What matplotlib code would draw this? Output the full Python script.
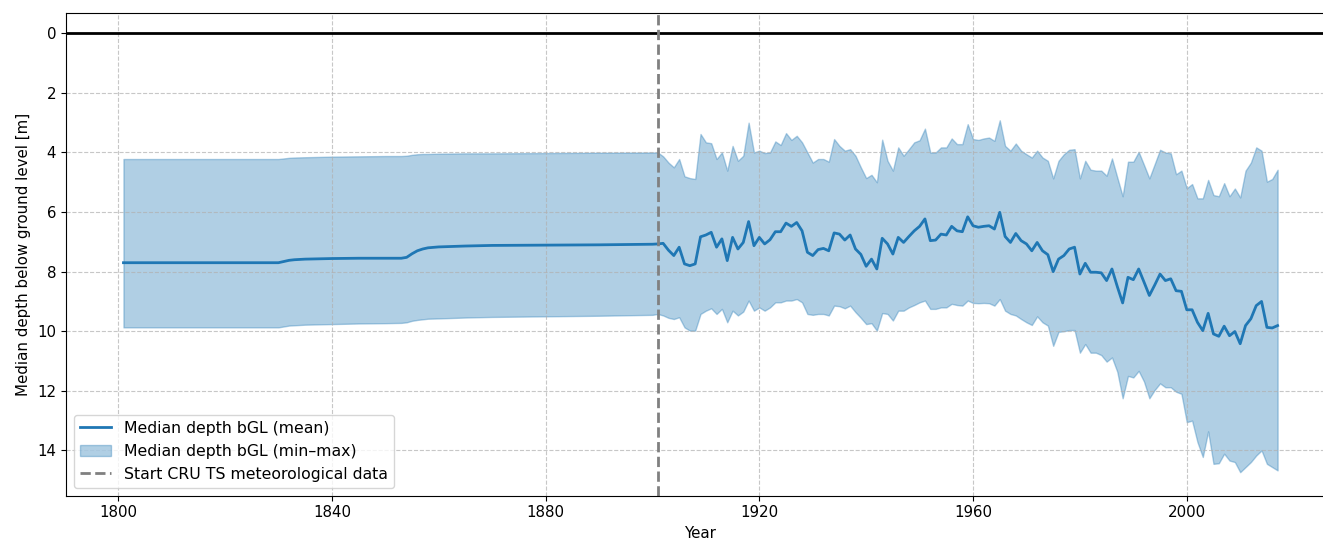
import numpy as np
import matplotlib.pyplot as plt

# Pre-1901 reconstruction (sparse yearly knots, smooth segments)
years_early = [1801, 1810, 1820, 1830, 1831, 1832, 1833, 1835, 1840, 1845, 1850, 1853,
               1854, 1855, 1856, 1857, 1858, 1860, 1865, 1870, 1880, 1890, 1900]
mean_early = [7.70, 7.70, 7.70, 7.70, 7.66, 7.62, 7.60, 7.58, 7.56, 7.55, 7.55, 7.55,
              7.52, 7.40, 7.30, 7.24, 7.20, 7.17, 7.14, 7.12, 7.11, 7.10, 7.08]
min_early = [4.22, 4.22, 4.22, 4.22, 4.20, 4.18, 4.17, 4.16, 4.14, 4.13, 4.12, 4.12,
             4.11, 4.08, 4.06, 4.05, 4.05, 4.04, 4.03, 4.03, 4.02, 4.01, 4.00]
max_early = [9.87, 9.87, 9.87, 9.87, 9.84, 9.81, 9.80, 9.78, 9.76, 9.74, 9.73, 9.72,
             9.70, 9.65, 9.62, 9.60, 9.58, 9.57, 9.54, 9.52, 9.50, 9.48, 9.45]

# CRU TS period, yearly values 1901-2017
years_cru = list(range(1901, 2018))
mean_cru = [
    7.07, 7.05, 7.28, 7.46, 7.18, 7.74, 7.80, 7.74, 6.83, 6.77,   # 1901-1910
    6.68, 7.18, 6.90, 7.63, 6.85, 7.24, 7.02, 6.32, 7.13, 6.85,   # 1911-1920
    7.07, 6.93, 6.66, 6.66, 6.37, 6.48, 6.35, 6.63, 7.35, 7.46,   # 1921-1930
    7.26, 7.22, 7.30, 6.70, 6.74, 6.94, 6.77, 7.24, 7.42, 7.82,   # 1931-1940
    7.58, 7.91, 6.88, 7.07, 7.41, 6.85, 7.02, 6.82, 6.63, 6.48,   # 1941-1950
    6.23, 6.96, 6.94, 6.74, 6.77, 6.48, 6.63, 6.66, 6.16, 6.46,   # 1951-1960
    6.51, 6.48, 6.46, 6.57, 6.01, 6.82, 7.02, 6.72, 6.96, 7.07,   # 1961-1970
    7.30, 7.02, 7.30, 7.43, 8.00, 7.58, 7.46, 7.24, 7.18, 8.08,   # 1971-1980
    7.72, 8.02, 8.02, 8.04, 8.30, 7.91, 8.50, 9.05, 8.19, 8.27,   # 1981-1990
    7.91, 8.35, 8.80, 8.45, 8.08, 8.30, 8.24, 8.64, 8.66, 9.28,   # 1991-2000
    9.28, 9.70, 9.98, 9.40, 10.09, 10.17, 9.83, 10.15, 10.01, 10.42,  # 2001-2010
    9.81, 9.58, 9.14, 9.00, 9.87, 9.89, 9.81,                     # 2011-2017
]
min_cru = [
    4.00, 4.13, 4.34, 4.50, 4.22, 4.80, 4.86, 4.89, 3.38, 3.66,
    3.69, 4.22, 4.00, 4.61, 3.78, 4.28, 4.11, 3.00, 4.00, 3.94,
    4.02, 4.00, 3.63, 3.75, 3.35, 3.58, 3.44, 3.66, 4.00, 4.34,
    4.22, 4.22, 4.31, 3.55, 3.78, 3.94, 3.89, 4.11, 4.50, 4.86,
    4.75, 5.00, 3.57, 4.28, 4.61, 3.83, 4.11, 3.89, 3.66, 3.59,
    3.20, 4.00, 4.00, 3.83, 3.83, 3.53, 3.72, 3.72, 3.05, 3.55,
    3.58, 3.53, 3.50, 3.61, 2.92, 3.78, 3.94, 3.70, 3.94, 4.06,
    4.17, 3.94, 4.17, 4.28, 4.87, 4.28, 4.06, 3.91, 3.89, 4.87,
    4.28, 4.58, 4.61, 4.61, 4.78, 4.20, 4.84, 5.47, 4.31, 4.31,
    3.98, 4.42, 4.87, 4.39, 3.91, 4.00, 4.03, 4.73, 4.61, 5.20,
    5.06, 5.54, 5.54, 4.92, 5.43, 5.47, 5.03, 5.47, 5.21, 5.51,
    4.61, 4.34, 3.83, 3.94, 4.98, 4.89, 4.58,
]
max_cru = [
    9.42, 9.47, 9.55, 9.59, 9.53, 9.87, 9.98, 9.98, 9.42, 9.31,
    9.23, 9.42, 9.25, 9.70, 9.31, 9.47, 9.34, 8.97, 9.31, 9.20,
    9.31, 9.20, 9.03, 9.03, 8.97, 8.97, 8.92, 9.03, 9.42, 9.45,
    9.42, 9.42, 9.47, 9.14, 9.16, 9.23, 9.14, 9.36, 9.55, 9.76,
    9.73, 9.98, 9.39, 9.42, 9.64, 9.31, 9.31, 9.20, 9.12, 9.03,
    8.97, 9.25, 9.25, 9.20, 9.20, 9.08, 9.12, 9.14, 8.97, 9.05,
    9.06, 9.05, 9.06, 9.14, 8.92, 9.31, 9.42, 9.47, 9.59, 9.70,
    9.79, 9.50, 9.70, 9.81, 10.49, 10.02, 10.00, 9.96, 9.96, 10.72,
    10.43, 10.72, 10.72, 10.80, 11.02, 10.88, 11.36, 12.25, 11.50, 11.55,
    11.33, 11.69, 12.25, 11.97, 11.75, 11.88, 11.88, 12.03, 12.10, 13.05,
    13.00, 13.72, 14.22, 13.36, 14.45, 14.43, 14.11, 14.34, 14.39, 14.73,
    14.56, 14.39, 14.17, 14.00, 14.45, 14.56, 14.67,
]

cru_start = 1901

years = np.array(years_early + years_cru)
mean_depth = np.array(mean_early + mean_cru)
min_depth = np.array(min_early + min_cru)
max_depth = np.array(max_early + max_cru)

plt.rcParams['font.size'] = 10.8

fig = plt.figure(figsize=(13.23, 5.41), dpi=100)
ax = fig.add_axes([0.0497, 0.0837, 0.9596, 0.8917])

ax.plot(years, mean_depth, color='tab:blue', lw=2, label='Median depth bGL (mean)')
ax.fill_between(years, min_depth, max_depth, color='tab:blue', alpha=0.35,
                label='Median depth bGL (min\u2013max)')
ax.axhline(0, color='black', lw=2)
ax.axvline(cru_start, color='grey', ls='--', lw=2,
           label='Start CRU TS meteorological data')

ax.set_xlim(1790.2, 2027.8)
ax.set_ylim(15.52, -0.67)
ax.set_xticks([1800, 1840, 1880, 1920, 1960, 2000])
ax.set_yticks([0, 2, 4, 6, 8, 10, 12, 14])
ax.grid(True, linestyle='--', alpha=0.7)
ax.set_xlabel('Year')
ax.set_ylabel('Median depth below ground level [m]')
ax.legend(loc='lower left', fontsize=11.3)

fig.savefig('out.png', dpi=100)
